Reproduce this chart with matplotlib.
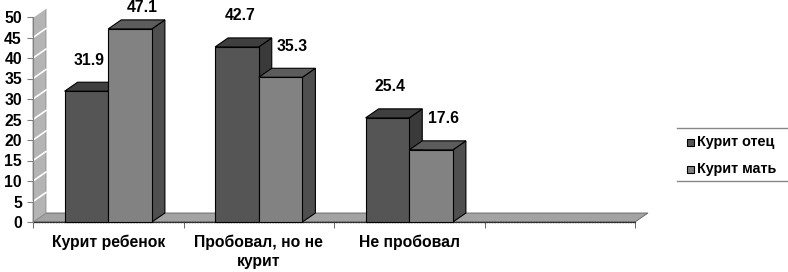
import matplotlib
matplotlib.use("Agg")
import matplotlib.pyplot as plt
from matplotlib.patches import Polygon, Rectangle
from matplotlib.lines import Line2D

plt.rcParams['font.family'] = ['Liberation Sans', 'DejaVu Sans']
plt.rcParams['font.weight'] = 'bold'

categories = ["Курит ребенок", "Пробовал, но не\nкурит", "Не пробовал", ""]
series_names = ["Курит отец", "Курит мать"]
father = [31.9, 42.7, 25.4]
mother = [47.1, 35.3, 17.6]
yticks = [0, 5, 10, 15, 20, 25, 30, 35, 40, 45, 50]

W, H = 788, 272
fig = plt.figure(figsize=(W / 100, H / 100), dpi=100)
ax = fig.add_axes([33 / W, 50 / H, 602 / W, 205 / H])
ax.set_xlim(0, 4)
ax.set_ylim(0, 50)

dx = 13 / 150.5
dy = 9 / 4.1

# walls
floor = Polygon([(0, 0), (4, 0), (4 + dx, dy), (dx, dy)], closed=True,
                facecolor="#a3a3a3", edgecolor="#606060", lw=0.6, clip_on=False, zorder=1)
ax.add_patch(floor)
wall = Polygon([(0, 0), (dx, dy), (dx, 50 + dy), (0, 50)], closed=True,
               facecolor="#b4b4b4", edgecolor="#909090", lw=0.6, clip_on=False, zorder=1)
ax.add_patch(wall)
for v in yticks[1:]:
    ax.plot([0, dx], [v, v + dy], color="white", lw=1.2, clip_on=False, zorder=1.5)
ax.plot([0, 4], [0, 0], color="#303030", lw=1.0, ls=(0, (1, 1)), clip_on=False, zorder=1.6)

w = 0.29
styles = [
    dict(front="#555555", top="#3f3f3f", side="#3a3a3a"),
    dict(front="#828282", top="#5c5c5c", side="#4f4f4f"),
]
label_dx = [3, 12]

fig.canvas.draw()
for si, vals in enumerate([father, mother]):
    st = styles[si]
    xs = [i + 0.5 - w + si * w for i in range(len(vals))]
    z = 2 + si * 3
    for x, v in zip(xs, vals):
        ax.add_patch(Polygon([(x + w, 0), (x + w + dx, dy), (x + w + dx, v + dy), (x + w, v)],
                             closed=True, facecolor=st["side"], edgecolor="black", lw=0.8,
                             zorder=z, clip_on=False))
        ax.add_patch(Polygon([(x, v), (x + w, v), (x + w + dx, v + dy), (x + dx, v + dy)],
                             closed=True, facecolor=st["top"], edgecolor="black", lw=0.8,
                             zorder=z, clip_on=False))
    ax.bar(xs, vals, width=w, align="edge", color=st["front"], edgecolor="black",
           lw=0.8, zorder=z + 1, clip_on=False)
    for x, v in zip(xs, vals):
        top_px = H - ax.transData.transform((x, v))[1]
        off = min(31, top_px - 7)
        ax.annotate(f"{v:.1f}", (x + w / 2, v), xytext=(label_dx[si], off),
                    textcoords="offset pixels",
                    ha="center", va="center", fontsize=11.3, fontweight="bold",
                    annotation_clip=False, zorder=10)

for s in ["top", "right"]:
    ax.spines[s].set_visible(False)
ax.spines["left"].set_color("#808080")
ax.spines["bottom"].set_color("#303030")
ax.spines["bottom"].set_zorder(1.7)

ax.set_yticks(yticks)
ax.set_yticklabels([str(t) for t in yticks], fontsize=11.3, fontweight="bold")
ax.tick_params(axis="y", length=4, color="#808080", pad=4)
ax.set_xticks([0, 1, 2, 3, 4], minor=True)
ax.set_xticks([0.5, 1.5, 2.5, 3.5])
ax.set_xticklabels(categories, fontsize=11.3, fontweight="bold", linespacing=1.3)
ax.tick_params(axis="x", which="major", length=0, pad=9)
ax.tick_params(axis="x", which="minor", length=4, color="#505050")

# legend
for yy in [128, 181]:
    fig.add_artist(Line2D([677 / W, 1.0], [1 - yy / H, 1 - yy / H], color="#888888", lw=1.0))
for i, (name, st) in enumerate(zip(series_names, styles)):
    yc = [142, 169][i]
    fig.add_artist(Rectangle((687 / W, 1 - (yc + 3.5) / H), 7 / W, 7 / H,
                             facecolor=st["front"], edgecolor="black", lw=0.8))
    fig.text(697 / W, 1 - yc / H, name, fontsize=10.4, fontweight="bold", va="center", ha="left")

fig.savefig("out.png", dpi=100)
